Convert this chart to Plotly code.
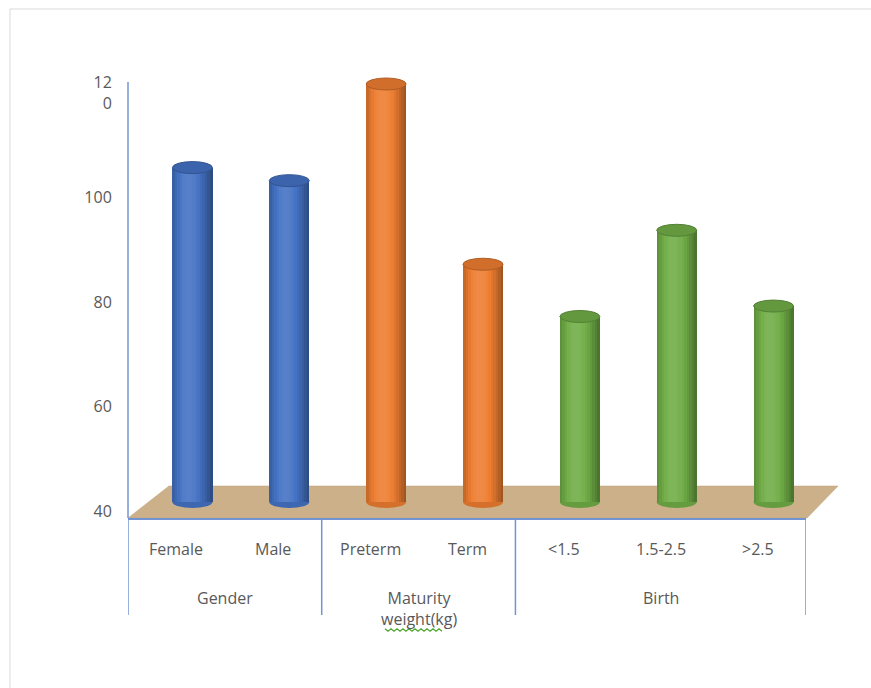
import math
import plotly.graph_objects as go

# ---------------- data ----------------
categories = ["Female", "Male", "Preterm", "Term", "<1.5", "1.5-2.5", ">2.5"]
group_of_category = ["Gender", "Gender",
                     "Maturity<br>weight(kg)", "Maturity<br>weight(kg)",
                     "Birth", "Birth", "Birth"]
groups = ["Gender", "Maturity<br>weight(kg)", "Birth"]
values = [104, 101.5, 120, 85.5, 75.5, 92, 77.5]
group_colors = {"Gender": "#4472C4",
                "Maturity<br>weight(kg)": "#ED7D31",
                "Birth": "#70AD47"}
y_tickvals = [40, 60, 80, 100, 120]
y_ticktext = ["40", "60", "80", "100", "12<br>0"]
BASE = 40

# ---------------- layout geometry (pixels) ----------------
W, H = 871, 688
PL, PR, PT, PB = 128, 806, 60, 518
PX_PER_UNIT = 5.225
y_lo = BASE - (PB - 511) / PX_PER_UNIT          # 40 sits at 511 px
y_hi = y_lo + (PB - PT) / PX_PER_UNIT
cat_px = (PR - PL) / len(categories)
shift_x = 16 / cat_px                            # depth offset of bars
y2_lo = BASE - (PB - 502) / PX_PER_UNIT          # bar base at 502 px
y2_hi = y2_lo + (PB - PT) / PX_PER_UNIT

AXIS_COLOR = "#7394d2"


def hex_to_rgb(h):
    h = h.lstrip("#")
    return tuple(int(h[i:i + 2], 16) for i in (0, 2, 4))


def shade(h, f):
    r, g, b = hex_to_rgb(h)
    if f >= 1:
        a = f - 1
        r, g, b = (r + (255 - r) * a, g + (255 - g) * a, b + (255 - b) * a)
    else:
        r, g, b = (r * f, g * f, b * f)
    return "rgb(%d,%d,%d)" % (round(r), round(g), round(b))


def profile(t):
    if t < 0.4:
        return 0.80 + (1.10 - 0.80) * math.sin(math.pi / 2 * t / 0.4)
    return 0.64 + (1.10 - 0.64) * math.cos(math.pi / 2 * (t - 0.4) / 0.6)


def px_x(px):
    return (px - PL) / (PR - PL)


def px_y(py):
    return (PB - py) / (PB - PT)


colors = [group_colors[g] for g in group_of_category]
xpos = list(range(len(categories)))
bar_w = 40 / cat_px
N = 16

fig = go.Figure()

# invisible trace anchoring the main (label) axes
fig.add_trace(go.Scatter(
    x=xpos, y=values, mode="markers", marker=dict(opacity=0),
    hoverinfo="skip", showlegend=False, xaxis="x", yaxis="y"))

# cylinder bodies as shaded vertical strips
for k in range(N):
    t = (k + 0.5) / N
    fig.add_trace(go.Bar(
        x=xpos, y=[v - BASE for v in values], base=BASE,
        width=bar_w / N * 1.08, offset=-bar_w / 2 + k * bar_w / N,
        marker=dict(color=[shade(c, profile(t)) for c in colors],
                    line=dict(width=0)),
        xaxis="x2", yaxis="y2", showlegend=False, hoverinfo="skip"))

shapes = []
# light frame around the chart
shapes.append(dict(type="rect", xref="paper", yref="paper",
                   x0=px_x(10), x1=px_x(W + 20), y0=px_y(9), y1=px_y(H + 20),
                   line=dict(color="#d9d9d9", width=1), layer="below"))
# floor
fl = [(128, 518), (807, 518), (838, 486), (169, 486)]
path = "M " + " L ".join("%f,%f" % (px_x(a), px_y(b)) for a, b in fl) + " Z"
shapes.append(dict(type="path", xref="paper", yref="paper", path=path,
                   fillcolor="#cbb08a", line=dict(color="#bfa27a", width=0.5),
                   layer="below"))
# y axis line
shapes.append(dict(type="line", xref="paper", yref="paper",
                   x0=0, x1=0, y0=px_y(82), y1=px_y(518),
                   line=dict(color=AXIS_COLOR, width=1.5)))

eh = 6 / PX_PER_UNIT
for x, v, c in zip(xpos, values, colors):
    shapes.append(dict(type="circle", xref="x2", yref="y2",
                       x0=x - bar_w / 2, x1=x + bar_w / 2,
                       y0=BASE - eh, y1=BASE + eh,
                       fillcolor=shade(c, 0.9), line=dict(width=0),
                       layer="below"))
    shapes.append(dict(type="circle", xref="x2", yref="y2",
                       x0=x - bar_w / 2, x1=x + bar_w / 2,
                       y0=v - eh, y1=v + eh,
                       fillcolor=shade(c, 0.88),
                       line=dict(color=shade(c, 0.74), width=1),
                       layer="above"))

font = dict(family="Open Sans, sans-serif", size=16, color="#595959")

annotations = []
for i, cat in enumerate(categories):
    annotations.append(dict(text=cat, x=i, xref="x", y=px_y(549), yref="paper",
                            showarrow=False, xanchor="center", yanchor="middle",
                            font=font))

# group boundaries and labels
bounds = [-0.5]
for gi, g in enumerate(groups):
    idx = [i for i, gg in enumerate(group_of_category) if gg == g]
    center = (idx[0] + idx[-1]) / 2
    bounds.append(idx[-1] + 0.5)
    annotations.append(dict(text=g, x=center, xref="x", y=px_y(585), yref="paper",
                            showarrow=False, xanchor="center", yanchor="top",
                            font=font))
for b in bounds:
    shapes.append(dict(type="line", xref="x", yref="paper", x0=b, x1=b,
                       y0=px_y(518), y1=px_y(615),
                       line=dict(color=AXIS_COLOR, width=1.5)))

# spell-check squiggle under "weight"
sq = []
x0, x1, yb = 385, 444, 630
n = int((x1 - x0) / 3)
for j in range(n + 1):
    sq.append((x0 + j * 3, yb + (1.3 if j % 2 else -1.3)))
sq_path = "M " + " L ".join("%f,%f" % (px_x(a), px_y(b)) for a, b in sq)
shapes.append(dict(type="path", xref="paper", yref="paper", path=sq_path,
                   line=dict(color="#4ea72e", width=1.2)))

fig.update_layout(
    width=W, height=H,
    margin=dict(l=PL, r=W - PR, t=PT, b=H - PB),
    paper_bgcolor="white", plot_bgcolor="rgba(0,0,0,0)",
    barmode="overlay", bargap=0,
    font=font, showlegend=False,
    shapes=shapes, annotations=annotations,
    xaxis=dict(range=[-0.5, len(categories) - 0.5], showline=True,
               linecolor=AXIS_COLOR, linewidth=1.5, showgrid=False,
               zeroline=False, showticklabels=False, ticks=""),
    yaxis=dict(range=[y_lo, y_hi], tickvals=y_tickvals, ticktext=y_ticktext,
               showline=False, showgrid=False, zeroline=False,
               ticks="outside", ticklen=12, tickcolor="rgba(0,0,0,0)",
               tickfont=font),
    xaxis2=dict(overlaying="x", range=[-0.5 - shift_x, len(categories) - 0.5 - shift_x],
                visible=False),
    yaxis2=dict(overlaying="y", range=[y2_lo, y2_hi], visible=False),
)

fig.write_html("out.html")
